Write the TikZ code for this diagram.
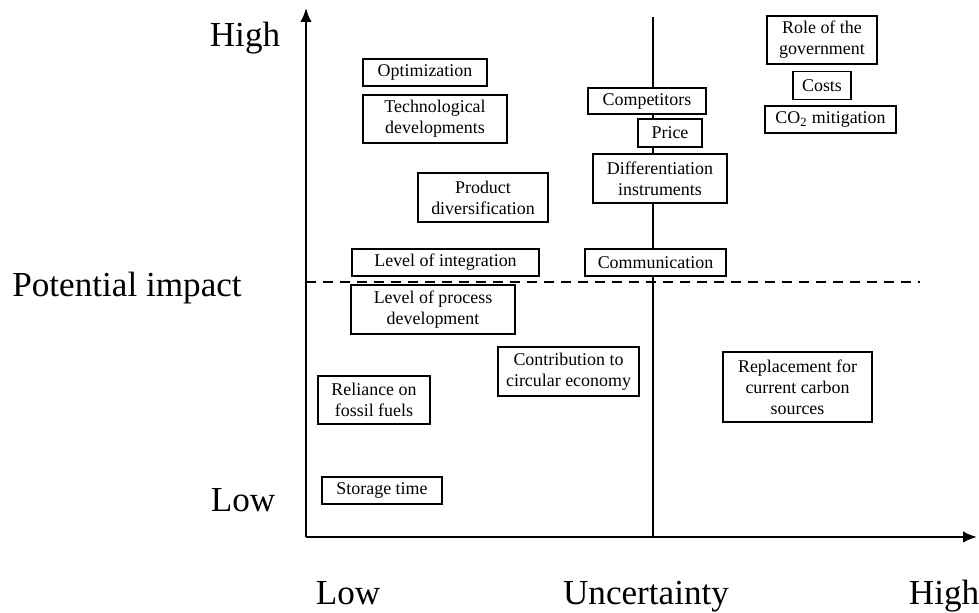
\documentclass[tikz,border=0pt]{standalone}
\usepackage{fontspec}
\setmainfont{Liberation Serif}
\usetikzlibrary{arrows.meta}
\usetikzlibrary{positioning}
\tikzstyle{axislabel}=[font=\fontsize{20}{23}\selectfont, inner sep=0pt, anchor=base]

\begin{document}
\begin{tikzpicture}[x=0.02cm, y=-0.02cm,
 boxnode/.style={rectangle, draw=black, fill=white, line width=0.9pt, font=\fontsize{10.2}{12}\selectfont, align=center, inner sep=0pt},
 axisline/.style={line width=1.2pt, -{Latex[length=2.8mm, width=2.3mm]}}
 ]
 \useasboundingbox (0,0) rectangle (979,612);

 %Axes
 \coordinate (origin) at (306,537);
 \coordinate (y_tip) at (306,8);
 \coordinate (x_tip) at (977,537);
 \coordinate (mid_top) at (653,17);
 \coordinate (mid_bottom) at (653,537);
 \coordinate (dash_start) at (306,282);
 \coordinate (dash_end) at (920,282);

 \draw[axisline] (origin) -- (y_tip);
 \draw[axisline] (origin) -- (x_tip);
 \draw[line width=1pt] (mid_bottom) -- (mid_top);
 \draw[line width=1.2pt, dash pattern=on 0.2cm off 0.14cm] (dash_start) -- (dash_end);

 %Labels
 \node[axislabel] (high_y) at (245,46) {High};
 \node[axislabel, anchor=base west] (impact_y) at (12,296) {Potential impact};
 \node[axislabel] (low_y) at (243,511) {Low};
 \node[axislabel] (low_x) at (348,604) {Low};
 \node[axislabel] (uncert_x) at (646,604) {Uncertainty};
 \node[axislabel] (high_x) at (944,604) {High};

 %Nodes
 \node[boxnode, minimum width=2.48cm, minimum height=0.54cm] (optim_node) at (425,72.5) {Optimization};
 \node[boxnode, minimum width=2.88cm, minimum height=0.96cm] (tech_node) at (435,119) {Technological\\developments};
 \node[boxnode, minimum width=2.60cm, minimum height=0.98cm] (product_node) at (483,197.5) {Product\\diversification};
 \node[boxnode, minimum width=3.74cm, minimum height=0.54cm] (integ_node) at (445.5,262.5) {Level of integration};
 \node[boxnode, minimum width=3.28cm, minimum height=0.98cm] (process_node) at (433,309.5) {Level of process\\development};
 \node[boxnode, minimum width=2.82cm, minimum height=0.98cm] (circular_node) at (568.5,371.5) {Contribution to\\circular economy};
 \node[boxnode, minimum width=2.24cm, minimum height=0.96cm] (fossil_node) at (374,400) {Reliance on\\fossil fuels};
 \node[boxnode, minimum width=2.40cm, minimum height=0.54cm] (storage_node) at (382,490.5) {Storage time};

 \node[boxnode, minimum width=2.36cm, minimum height=0.52cm] (compet_node) at (647,101) {Competitors};
 \node[boxnode, minimum width=1.28cm, minimum height=0.56cm] (price_node) at (670,133) {Price};
 \node[boxnode, minimum width=2.68cm, minimum height=0.98cm] (diff_node) at (660,178.5) {Differentiation\\instruments};
 \node[boxnode, minimum width=2.82cm, minimum height=0.54cm] (comm_node) at (655.5,262.5) {Communication};

 \node[boxnode, minimum width=2.20cm, minimum height=0.96cm] (gov_node) at (822,40) {Role of the\\government};
 \node[boxnode, minimum width=1.16cm, minimum height=0.56cm] (costs_node) [below=0.12cm of gov_node] {Costs};
 \node[boxnode, minimum width=2.62cm, minimum height=0.54cm] (co2_node) [below=0.1cm of costs_node, xshift=0.17cm] {CO\textsubscript{2} mitigation};
 \node[boxnode, minimum width=2.98cm, minimum height=1.40cm] (carbon_node) at (797.5,387) {Replacement for\\current carbon\\sources};
\end{tikzpicture}
\end{document}
